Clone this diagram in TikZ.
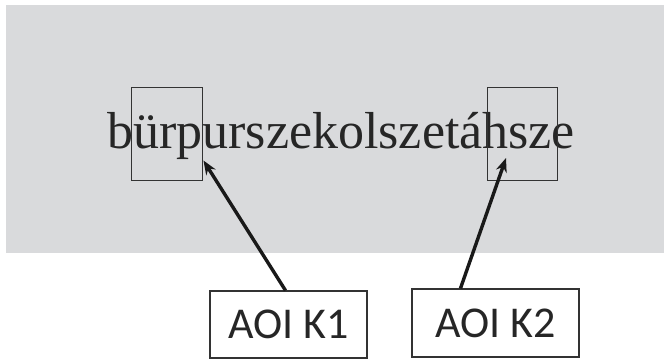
\documentclass[tikz,border=0pt]{standalone}
\usepackage{fontspec}
\usepackage{tikz}
\usetikzlibrary{arrows.meta}
\setmainfont{Liberation Serif}
\newfontfamily\labelfont{Carlito}
\definecolor{screengray}{RGB}{217,218,220}
\tikzstyle{stimulus} = [inner sep=0pt, font=\fontsize{52}{60}\selectfont, text=black!85]
\tikzstyle{aoibox} = [draw=black!80, line width=0.9pt, rectangle, inner sep=0pt]
\tikzstyle{labelbox} = [draw=black!80, fill=white, line width=1.1pt, rectangle,
    inner sep=0pt, font=\labelfont\fontsize{44}{50}\selectfont, text=black!85]
\tikzstyle{pointer} = [-{Stealth[length=14pt,width=11pt]}, line width=3.4pt, black!90]

\begin{document}
\begin{tikzpicture}[x=1pt, y=-1pt]
                \useasboundingbox (0,0) rectangle (664,359);
                \fill[screengray] (6,5) rectangle (664,253);
                \node [stimulus, anchor=base west] (word) at (107,148) {bürpurszekolszetáhsze};
                \node [aoibox, minimum width=71pt, minimum height=93pt] (aoiA) at (166.5,133.5) {};
                \node [aoibox, minimum width=70pt, minimum height=93pt] (aoiB) at (522,133.5) {};
                \node [labelbox, minimum width=157pt, minimum height=67pt] (lblA) at (288.5,324.5) {AOI K1};
                \node [labelbox, minimum width=167pt, minimum height=68pt] (lblB) at (495.5,323) {AOI K2};
                \draw [pointer] ([xshift=-3pt]lblA.north) -- ([xshift=1pt,yshift=-27pt]aoiA.east);
                \draw [pointer] ([xshift=49pt]lblB.north west) -- ([xshift=-16pt,yshift=-24.5pt]aoiB.center);
            \end{tikzpicture}
\end{document}
